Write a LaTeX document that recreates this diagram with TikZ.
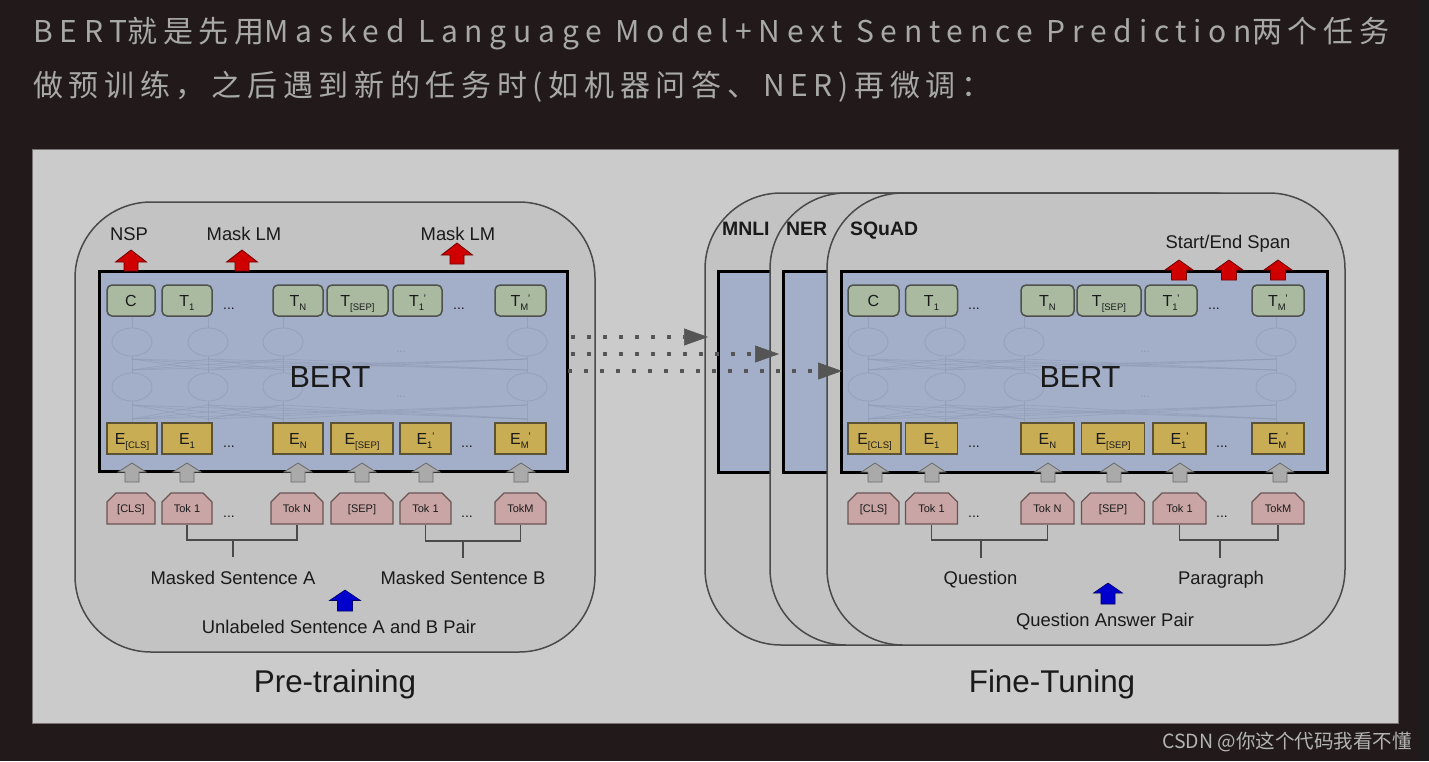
\documentclass[tikz,border=0pt]{standalone}
\usepackage{fontspec}
\setmainfont{Liberation Sans}
\newfontfamily\cjkhead[LetterSpace=19]{Noto Sans CJK SC}
\newfontfamily\lathead[LetterSpace=22.5]{Noto Sans CJK SC}
\newfontfamily\cjkmark{Noto Sans CJK SC}
\usetikzlibrary{shapes.misc,arrows.meta}

\definecolor{pagebg}{HTML}{221A1A}
\definecolor{edgestrip}{HTML}{1C1C1C}
\definecolor{panelbg}{HTML}{CBCBCB}
\definecolor{panelline}{HTML}{7A7272}
\definecolor{headgray}{HTML}{A8A8A8}
\definecolor{wmgray}{HTML}{B4B4B4}
\definecolor{boxfill}{HTML}{C3C3C3}
\definecolor{boxline}{HTML}{4A4A4A}
\definecolor{bertblue}{HTML}{A3AFC8}
\definecolor{tgreen}{HTML}{A9BAA1}
\definecolor{tline}{HTML}{4E524C}
\definecolor{eyellow}{HTML}{C9AD55}
\definecolor{eline}{HTML}{5C5234}
\definecolor{tokpink}{HTML}{C9A5A5}
\definecolor{tokline}{HTML}{6A5555}
\definecolor{arrred}{HTML}{D00000}
\definecolor{arrredline}{HTML}{700000}
\definecolor{arrgray}{HTML}{AAAAAA}
\definecolor{arrgrayline}{HTML}{6A6A6A}
\definecolor{arrblue}{HTML}{0000CC}
\definecolor{arrblueline}{HTML}{000066}
\definecolor{netcol}{HTML}{8C98B3}
\definecolor{dotgray}{HTML}{555555}
\definecolor{txtdark}{HTML}{1A1A1A}

\newcommand{\sublbl}[2]{#1\raisebox{-4.5pt}{\fontsize{9.5}{9.5}\selectfont #2}}
\newcommand{\subprm}[2]{#1\raisebox{-4.5pt}{\fontsize{9.5}{9.5}\selectfont #2}\kern-0.5pt\raisebox{4pt}{\fontsize{11}{11}\selectfont '}}
\newcommand{\blockup}[7]{\path[#1] (#2,#3) -- ({#2+#6},#4) -- ({#2+#7},#4) -- ({#2+#7},#5) -- ({#2-#7},#5) -- ({#2-#7},#4) -- ({#2-#6},#4) -- cycle;}
\newcommand{\bertnet}[6]{%
  \foreach \a in {#2,#3,#4,#5}{
    \draw[netline] (\a,316) -- (\a,328);
    \draw[netline] (\a,356) -- (\a,359);
    \draw[netline] (\a,370) -- (\a,373);
    \draw[netline] (\a,401) -- (\a,405);
    \draw[netline] (\a,419) -- (\a,423);
    \draw[netell] (\a,342) ellipse [x radius=20, y radius=14];
    \draw[netell] (\a,387) ellipse [x radius=20, y radius=14];
    \foreach \b in {#2,#3,#4,#5}{
      \draw[netline] (\a,370) -- (\b,359);
      \draw[netline] (\a,419) -- (\b,405);
    }
  }
  \node[netdots] (#1dA) at (#6,352) {...};
  \node[netdots] (#1dB) at (#6,397) {...};
}

\begin{document}
\begin{tikzpicture}[x=1pt,y=-1pt,
  outerbox/.style={draw=boxline, fill=boxfill, line width=1.5pt, rounded corners=76pt, inner sep=0pt},
  bertbox/.style={draw=black, fill=bertblue, line width=3pt, inner sep=0pt},
  tbox/.style={draw=tline, fill=tgreen, rounded corners=5pt, line width=1.5pt, minimum height=31pt, inner sep=0pt, text height=11.4pt, text depth=0pt, text=txtdark, font=\fontsize{16}{16}\selectfont},
  ebox/.style={draw=eline, fill=eyellow, line width=1.2pt, minimum height=31pt, inner sep=0pt, text height=11.4pt, text depth=0pt, text=txtdark, font=\fontsize{16}{16}\selectfont},
  tokbox/.style={chamfered rectangle, chamfered rectangle corners={north west,north east}, chamfered rectangle xsep=5pt, chamfered rectangle ysep=5pt, draw=tokline, fill=tokpink, line width=1.2pt, minimum height=31pt, inner sep=0pt, text height=8pt, text depth=0pt, text=txtdark, font=\fontsize{11}{11}\selectfont},
  dots/.style={anchor=base, inner sep=0pt, text=txtdark, font=\fontsize{14}{14}\selectfont},
  netline/.style={draw=netcol, line width=0.7pt, opacity=0.55},
  netell/.style={draw=netcol, line width=0.8pt, opacity=0.6},
  netdots/.style={inner sep=0pt, text=netcol, font=\fontsize{12}{12}\selectfont},
  lab/.style={anchor=base, inner sep=0pt, text=txtdark, font=\fontsize{18.4}{18.4}\selectfont},
  blab/.style={anchor=base west, inner sep=0pt, text=txtdark, font=\bfseries\fontsize{19.4}{19.4}\selectfont},
  biglab/.style={anchor=base, inner sep=0pt, text=txtdark, font=\fontsize{31.4}{31.4}\selectfont},
  bertlab/.style={anchor=base, inner sep=0pt, text=txtdark, font=\fontsize{30.5}{30.5}\selectfont},
  redarr/.style={fill=arrred, draw=arrredline, line width=0.8pt},
  grayarr/.style={fill=arrgray, draw=arrgrayline, line width=0.8pt},
  bluearr/.style={fill=arrblue, draw=arrblueline, line width=0.6pt},
  bracket/.style={draw=boxline, line width=1.3pt},
  dotarrow/.style={draw=dotgray, line width=3.5pt, dash pattern=on 3.5pt off 12.5pt, -{Triangle[length=24pt,width=17pt,line width=0.5pt]}}
]
\useasboundingbox (0,0) rectangle (1429,761);
\fill[pagebg] (0,0) rectangle (1429,761);
\fill[edgestrip] (1419,0) rectangle (1429,761);

% header text
\node[anchor=base west, inner sep=0pt, text=headgray, font=\fontsize{30}{30}\selectfont] (head1) at (33,42) {{\lathead BERT}{\cjkhead 就是先用}{\lathead Masked Language Model+Next Sentence Prediction}{\cjkhead 两个任务}};
\node[anchor=base west, inner sep=0pt, text=headgray, font=\fontsize{30}{30}\selectfont] (head2) at (33,96) {{\cjkhead 做预训练，之后遇到新的任务时(如机器问答、NER)再微调：}};
\node[anchor=base east, inner sep=0pt, text=wmgray, font=\cjkmark\fontsize{19.5}{19.5}\selectfont] (wmark) at (1412,748) {CSDN @你这个代码我看不懂};

% panel
\filldraw[fill=panelbg, draw=panelline, line width=1pt] (32,149) rectangle (1398,723);

% ================= PRE-TRAINING =================
\node[outerbox, minimum width=520pt, minimum height=450pt] (ptbox) at (335,427) {};
\node[bertbox, minimum width=468pt, minimum height=200pt] (pbert) at (333,371) {};
\bertnet{p}{132}{208}{283}{527}{401}
\node[bertlab] (pbertlab) at (330,387) {BERT};

\node[tbox, minimum width=48pt] (pC) at (131,300.5) {C};
\node[tbox, minimum width=50pt] (pT1) at (187,300.5) {\sublbl{T}{1}};
\node[dots] (pTd1) at (229,309) {...};
\node[tbox, minimum width=50pt] (pTN) at (298,300.5) {\sublbl{T}{N}};
\node[tbox, minimum width=61pt] (pTS) at (357.5,300.5) {\sublbl{T}{[SEP]}};
\node[tbox, minimum width=49pt] (pT1b) at (417.5,300.5) {\subprm{T}{1}};
\node[dots] (pTd2) at (459,309) {...};
\node[tbox, minimum width=51pt] (pTM) at (520.5,300.5) {\subprm{T}{M}};

\node[ebox, minimum width=50pt] (pEC) at (132,438.5) {\sublbl{E}{[CLS]}};
\node[ebox, minimum width=50pt] (pE1) at (187,438.5) {\sublbl{E}{1}};
\node[dots] (pEd1) at (229,447) {...};
\node[ebox, minimum width=50pt] (pEN) at (298,438.5) {\sublbl{E}{N}};
\node[ebox, minimum width=62pt] (pES) at (362,438.5) {\sublbl{E}{[SEP]}};
\node[ebox, minimum width=51pt] (pE1b) at (425.5,438.5) {\subprm{E}{1}};
\node[dots] (pEd2) at (467,447) {...};
\node[ebox, minimum width=51pt] (pEM) at (520.5,438.5) {\subprm{E}{M}};

\blockup{grayarr}{132}{463}{472}{482}{14}{7}
\blockup{grayarr}{187}{463}{472}{482}{14}{7}
\blockup{grayarr}{298}{463}{472}{482}{14}{7}
\blockup{grayarr}{362}{463}{472}{482}{14}{7}
\blockup{grayarr}{426}{463}{472}{482}{14}{7}
\blockup{grayarr}{521}{463}{472}{482}{14}{7}

\node[tokbox, minimum width=48pt] (pKC) at (131,508.5) {[CLS]};
\node[tokbox, minimum width=50pt] (pK1) at (187,508.5) {Tok 1};
\node[dots] (pKd1) at (229,517) {...};
\node[tokbox, minimum width=52pt] (pKN) at (297,508.5) {Tok N};
\node[tokbox, minimum width=62pt] (pKS) at (362,508.5) {[SEP]};
\node[tokbox, minimum width=51pt] (pK1b) at (425.5,508.5) {Tok 1};
\node[dots] (pKd2) at (467,517) {...};
\node[tokbox, minimum width=51pt] (pKM) at (520.5,508.5) {TokM};

\coordinate (pbA) at (233,540);
\coordinate (pbA2) at (233,557);
\coordinate (pbB) at (463,541);
\coordinate (pbB2) at (463,558);
\draw[bracket] (pK1.south) |- (pbA) -| (pKN.south);
\draw[bracket] (pbA) -- (pbA2);
\draw[bracket] (pK1b.south) |- (pbB) -| (pKM.south);
\draw[bracket] (pbB) -- (pbB2);

\node[lab] (pMA) at (233,584.5) {Masked Sentence A};
\node[lab] (pMB) at (463,584.5) {Masked Sentence B};
\blockup{bluearr}{345}{590}{600.5}{611}{15.5}{7.5}
\node[lab] (pUn) at (339,633.5) {Unlabeled Sentence A and B Pair};

\blockup{redarr}{131}{250}{262}{271}{15.5}{7}
\blockup{redarr}{242}{250}{262}{271}{15.5}{7}
\blockup{redarr}{457}{243}{255}{264}{15.5}{7}
\node[lab] (pNSP) at (129,240) {NSP};
\node[lab] (pMLM1) at (244,240) {Mask LM};
\node[lab] (pMLM2) at (458,240) {Mask LM};

\node[biglab] (pretrain) at (335,692.5) {Pre-training};

% ================= FINE-TUNING =================
\node[outerbox, minimum width=518pt, minimum height=452pt] (mnlibox) at (964,419) {};
\node[bertbox, minimum width=486pt, minimum height=201pt] (mnlibert) at (961,371.5) {};
\node[blab] (mnlilab) at (722,235) {MNLI};
\node[outerbox, minimum width=518pt, minimum height=452pt] (nerbox) at (1029,419) {};
\node[bertbox, minimum width=486pt, minimum height=201pt] (nerbert) at (1026,371.5) {};
\node[blab] (nerlab) at (786,235) {NER};
\node[outerbox, minimum width=518pt, minimum height=452pt] (sqbox) at (1086,419) {};
\node[bertbox, minimum width=486pt, minimum height=201pt] (sqbert) at (1084,371.5) {};
\node[blab] (sqlab) at (850,235) {SQuAD};
\bertnet{f}{868}{945}{1024}{1276}{1145}
\node[bertlab] (fbertlab) at (1080,387) {BERT};

\node[tbox, minimum width=51pt] (fC) at (873.5,300.5) {C};
\node[tbox, minimum width=52pt] (fT1) at (931.5,300.5) {\sublbl{T}{1}};
\node[dots] (fTd1) at (974,309) {...};
\node[tbox, minimum width=53pt] (fTN) at (1047.5,300.5) {\sublbl{T}{N}};
\node[tbox, minimum width=64pt] (fTS) at (1109,300.5) {\sublbl{T}{[SEP]}};
\node[tbox, minimum width=52pt] (fT1b) at (1171,300.5) {\subprm{T}{1}};
\node[dots] (fTd2) at (1214,309) {...};
\node[tbox, minimum width=52pt] (fTM) at (1278,300.5) {\subprm{T}{M}};

\node[ebox, minimum width=53pt] (fEC) at (874.5,438.5) {\sublbl{E}{[CLS]}};
\node[ebox, minimum width=52pt] (fE1) at (931.5,438.5) {\sublbl{E}{1}};
\node[dots] (fEd1) at (974,447) {...};
\node[ebox, minimum width=53pt] (fEN) at (1047.5,438.5) {\sublbl{E}{N}};
\node[ebox, minimum width=63pt] (fES) at (1113,438.5) {\sublbl{E}{[SEP]}};
\node[ebox, minimum width=53pt] (fE1b) at (1179.5,438.5) {\subprm{E}{1}};
\node[dots] (fEd2) at (1222,447) {...};
\node[ebox, minimum width=52pt] (fEM) at (1278,438.5) {\subprm{E}{M}};

\blockup{grayarr}{875}{463}{472}{482}{13.5}{7}
\blockup{grayarr}{932}{463}{472}{482}{13.5}{7}
\blockup{grayarr}{1048}{463}{472}{482}{13.5}{7}
\blockup{grayarr}{1114}{463}{472}{482}{13.5}{7}
\blockup{grayarr}{1180}{463}{472}{482}{13.5}{7}
\blockup{grayarr}{1280}{463}{472}{482}{13.5}{7}

\node[tokbox, minimum width=51pt] (fKC) at (873.5,508.5) {[CLS]};
\node[tokbox, minimum width=52pt] (fK1) at (931.5,508.5) {Tok 1};
\node[dots] (fKd1) at (974,517) {...};
\node[tokbox, minimum width=53pt] (fKN) at (1047.5,508.5) {Tok N};
\node[tokbox, minimum width=63pt] (fKS) at (1113,508.5) {[SEP]};
\node[tokbox, minimum width=53pt] (fK1b) at (1179.5,508.5) {Tok 1};
\node[dots] (fKd2) at (1222,517) {...};
\node[tokbox, minimum width=52pt] (fKM) at (1278,508.5) {TokM};

\coordinate (fbA) at (981,540);
\coordinate (fbA2) at (981,558);
\coordinate (fbB) at (1220,540);
\coordinate (fbB2) at (1220,558);
\draw[bracket] (fK1.south) |- (fbA) -| (fKN.south);
\draw[bracket] (fbA) -- (fbA2);
\draw[bracket] (fK1b.south) |- (fbB) -| (fKM.south);
\draw[bracket] (fbB) -- (fbB2);

\node[lab] (fQ) at (980.5,584.5) {Question};
\node[lab] (fP) at (1221,584.5) {Paragraph};
\blockup{bluearr}{1108}{583}{593}{604}{14.5}{7}
\node[lab] (fQA) at (1105,626) {Question Answer Pair};

\blockup{redarr}{1179}{260}{270}{280}{14}{7.5}
\blockup{redarr}{1229}{260}{270}{280}{14}{7.5}
\blockup{redarr}{1278}{260}{270}{280}{14}{7.5}
\node[lab] (fSE) at (1228,248) {Start/End Span};

\node[biglab] (finetune) at (1052,692.5) {Fine-Tuning};

% dotted transfer arrows
\coordinate (da1) at (571,337);
\coordinate (db1) at (708,337);
\coordinate (da2) at (571,354);
\coordinate (db2) at (779,354);
\coordinate (da3) at (568,371);
\coordinate (db3) at (842,371);
\draw[dotarrow] (da1) -- (db1);
\draw[dotarrow] (da2) -- (db2);
\draw[dotarrow] (da3) -- (db3);
\end{tikzpicture}
\end{document}
